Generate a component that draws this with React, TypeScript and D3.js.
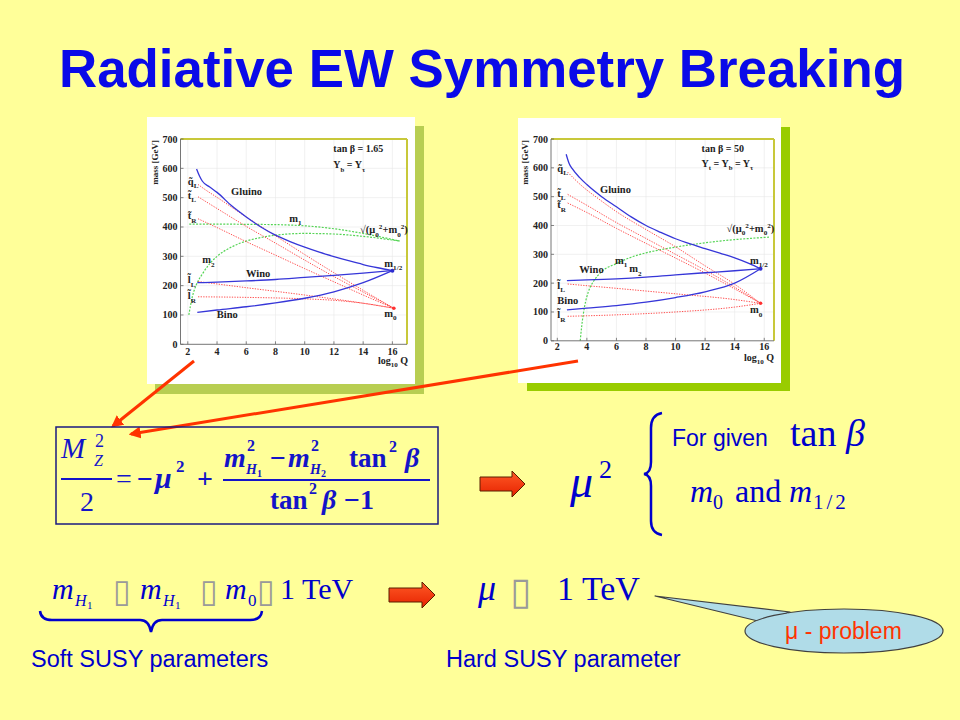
import React from 'react';
import * as d3 from 'd3';

type Pt = [number, number];

// ---------- axes ----------
const xTicks = [2, 4, 6, 8, 10, 12, 14, 16];
const yTicks = [0, 100, 200, 300, 400, 500, 600, 700];

// ---------- chart 1 : tan beta = 1.65 ----------
const c1Gluino: Pt[] = [[2.6, 598], [2.8, 574], [3.0, 556], [3.5, 536], [4, 518], [5, 472], [6, 434], [7, 400], [8, 372], [9, 350], [10, 331], [11, 314], [12, 299], [13, 285], [14, 272], [15, 261], [16.0, 251]];
const c1Wino: Pt[] = [[2.65, 210], [4, 212], [6, 216], [8, 221], [10, 228], [12, 235], [14, 243], [16.0, 251]];
const c1Bino: Pt[] = [[2.65, 109], [4, 117], [6, 128], [8, 141], [10, 157], [12, 179], [14, 210], [16.0, 251]];
const c1SqL: Pt[] = [[2.7, 545], [3.2, 527], [4, 501], [6, 434], [8, 370], [10, 306], [12, 244], [14, 184], [16.1, 123]];
const c1StL: Pt[] = [[2.7, 503], [4, 463], [6, 402], [8, 345], [10, 287], [12, 231], [14, 178], [16.1, 123]];
const c1StR: Pt[] = [[2.7, 428], [4, 398], [6, 350], [8, 304], [10, 258], [12, 213], [14, 168], [16.1, 123]];
const c1SlL: Pt[] = [[2.7, 214], [6, 193], [10, 168], [14, 140], [16.1, 123]];
const c1SlR: Pt[] = [[2.7, 162], [6, 160], [10, 155], [12, 150], [14, 140], [16.1, 123]];
const c1M1: Pt[] = [[2.1, 410], [4, 410], [6, 409], [8, 408], [10, 404], [12, 394], [14, 378], [16.5, 352]];
const c1M2: Pt[] = [[2.07, 100], [2.3, 160], [2.6, 205], [3, 240], [3.5, 275], [4, 300], [5, 332], [6, 352], [7, 364], [8, 372], [10, 378], [12, 376], [14, 368], [16.5, 352]];

// ---------- chart 2 : tan beta = 50 ----------
const c2Gluino: Pt[] = [[2.6, 647], [2.8, 615], [3.0, 598], [3.5, 567], [4, 542], [5, 500], [6, 465], [7, 430], [8, 400], [9, 376], [10, 354], [11, 336], [12, 320], [13, 304], [14, 288], [15, 268], [15.75, 250]];
const c2Wino: Pt[] = [[2.65, 209], [4, 211], [6, 215], [8, 221], [10, 229], [12, 236], [14, 243], [15.75, 250]];
const c2Bino: Pt[] = [[2.65, 107], [4, 113], [6, 122], [8, 134], [10, 150], [12, 170], [14, 200], [15.75, 250]];
const c2SqL: Pt[] = [[2.7, 585], [3.6, 540], [4.75, 494], [6, 448], [8, 386], [10, 326], [12, 260], [14, 196], [15.75, 130]];
const c2StL: Pt[] = [[2.7, 508], [4, 470], [6, 410], [8, 355], [10, 300], [12, 245], [14, 186], [15.75, 130]];
const c2StR: Pt[] = [[2.7, 478], [4, 445], [6, 390], [8, 338], [10, 287], [12, 235], [14, 180], [15.75, 130]];
const c2SlL: Pt[] = [[2.7, 197], [6, 182], [10, 163], [14, 143], [15.75, 130]];
const c2SlR: Pt[] = [[2.7, 85], [6, 90], [10, 100], [14, 117], [15.75, 130]];
const c2Green: Pt[] = [[3.55, 0], [3.65, 50], [3.85, 120], [4.1, 170], [4.5, 210], [5, 240], [6, 268], [7, 290], [8, 305], [9, 316], [10, 325], [11, 333], [12, 340], [13, 346], [14, 351], [15, 355], [16.4, 360]];

// ---------- label anchors (data coordinates) ----------
type Lab = { k: string; x: number; y: number };
const c1Labels: Lab[] = [
  { k: 'tanb1', x: 11.96, y: 654 }, { k: 'yb1', x: 11.96, y: 600 },
  { k: 'Gluino', x: 4.96, y: 509 }, { k: 'm1', x: 8.95, y: 418 },
  { k: 'sqrt', x: 13.79, y: 378 }, { k: 'm2', x: 2.99, y: 276 },
  { k: 'Wino', x: 5.98, y: 230 }, { k: 'm12', x: 15.45, y: 265 },
  { k: 'Bino', x: 3.98, y: 89 }, { k: 'm0', x: 15.45, y: 94 },
  { k: 'qL', x: 2.0, y: 543 }, { k: 'tL', x: 2.0, y: 495 }, { k: 'tR', x: 2.0, y: 426 },
  { k: 'lL', x: 2.0, y: 208 }, { k: 'lR', x: 2.0, y: 153 },
];
const c2Labels: Lab[] = [
  { k: 'tanb2', x: 11.76, y: 656 }, { k: 'yt2', x: 11.76, y: 604 },
  { k: 'Gluino', x: 4.89, y: 512 }, { k: 'sqrt', x: 13.45, y: 378 },
  { k: 'm1', x: 5.9, y: 266 }, { k: 'm2', x: 6.87, y: 238 },
  { k: 'Wino', x: 3.49, y: 234 }, { k: 'm12', x: 15.03, y: 266 },
  { k: 'Bino', x: 2.0, y: 127 }, { k: 'm0', x: 15.03, y: 95 },
  { k: 'qL', x: 2.0, y: 587 }, { k: 'tL', x: 2.0, y: 499 }, { k: 'tR', x: 2.0, y: 459 },
  { k: 'lL', x: 2.0, y: 180 }, { k: 'lR', x: 2.0, y: 78 },
];

type Seg = [string, 'n' | 'b' | 'p'];
const SEGS: Record<string, Seg[]> = {
  tanb1: [['tan β = 1.65', 'n']],
  yb1: [['Y', 'n'], ['b', 'b'], [' = Y', 'n'], ['τ', 'b']],
  tanb2: [['tan β = 50', 'n']],
  yt2: [['Y', 'n'], ['t', 'b'], [' = Y', 'n'], ['b', 'b'], [' = Y', 'n'], ['τ', 'b']],
  Gluino: [['Gluino', 'n']],
  Wino: [['Wino', 'n']],
  Bino: [['Bino', 'n']],
  m1: [['m', 'n'], ['1', 'b']],
  m2: [['m', 'n'], ['2', 'b']],
  m12: [['m', 'n'], ['1/2', 'b']],
  m0: [['m', 'n'], ['0', 'b']],
  sqrt: [['√(μ', 'n'], ['0', 'b'], ['2', 'p'], ['+m', 'n'], ['0', 'b'], ['2', 'p'], [')', 'n']],
  qL: [['q\u0303', 'n'], ['L', 'b']],
  tL: [['t\u0303', 'n'], ['L', 'b']],
  tR: [['t\u0303', 'n'], ['R', 'b']],
  lL: [['l\u0303', 'n'], ['L', 'b']],
  lR: [['l\u0303', 'n'], ['R', 'b']],
};

const SERIF = '"Liberation Serif", "Times New Roman", serif';
const SANS = '"Liberation Sans", Arial, sans-serif';
const BLUE = '#0000CC';

function Rich({ x, y, segs, size, anchor }: { x: number; y: number; segs: Seg[]; size: number; anchor?: string }) {
  let cur = 0;
  const kids = segs.map(([t, m], i) => {
    const target = m === 'b' ? size * 0.32 : m === 'p' ? -size * 0.4 : 0;
    const dy = target - cur;
    cur = target;
    return (
      <tspan key={i} dy={dy} fontSize={m === 'n' ? size : size * 0.68}>
        {t}
      </tspan>
    );
  });
  return (
    <text x={x} y={y} fontSize={size} textAnchor={anchor as any}>
      {kids}
    </text>
  );
}

type SeriesDef = { data: Pt[]; kind: 'blue' | 'red' | 'green' };
type PanelDef = {
  white: [number, number, number, number];
  shadow: [number, number, number, number];
  shadowColor: string;
  xDomain: [number, number];
  xRange: [number, number];
  yRange: [number, number];
  series: SeriesDef[];
  labels: Lab[];
  massX: number;
  logX: number;
  logY: number;
  tickLabelY: number;
  blueEnd: Pt;
  redEnd: Pt;
};

const STYLE: Record<string, any> = {
  blue: { stroke: '#3636D8', strokeWidth: 1.3 },
  red: { stroke: '#FF3A3A', strokeWidth: 0.9, strokeDasharray: '1.3 1.3' },
  green: { stroke: '#55D455', strokeWidth: 1.2, strokeDasharray: '2 1.4' },
};

function Panel({ p }: { p: PanelDef }) {
  const x = d3.scaleLinear().domain(p.xDomain).range(p.xRange);
  const y = d3.scaleLinear().domain([0, 700]).range(p.yRange);
  const line = d3
    .line<Pt>()
    .x((d) => x(d[0]))
    .y((d) => y(d[1]))
    .curve(d3.curveMonotoneX);
  const [x0, x1] = p.xRange;
  const [yb, yt] = p.yRange;
  return (
    <g>
      <rect x={p.shadow[0]} y={p.shadow[1]} width={p.shadow[2] - p.shadow[0]} height={p.shadow[3] - p.shadow[1]} fill={p.shadowColor} />
      <rect x={p.white[0]} y={p.white[1]} width={p.white[2] - p.white[0]} height={p.white[3] - p.white[1]} fill="#FFFFFF" />
      <g stroke="#E8E8E8" strokeWidth={0.6}>
        {yTicks.slice(1, -1).map((t) => (
          <line key={'gy' + t} x1={x0} x2={x1} y1={y(t)} y2={y(t)} />
        ))}
        {xTicks.map((t) => (
          <line key={'gx' + t} x1={x(t)} x2={x(t)} y1={yt} y2={yb} />
        ))}
      </g>
      <g fill="none">
        {p.series.map((s, i) => (
          <path key={i} d={line(s.data) || ''} {...STYLE[s.kind]} />
        ))}
      </g>
      <circle cx={x(p.blueEnd[0])} cy={y(p.blueEnd[1])} r={2} fill="#2D2DD0" />
      <circle cx={x(p.redEnd[0])} cy={y(p.redEnd[1])} r={1.8} fill="#FF3030" />
      <line x1={x0} x2={x1} y1={yt} y2={yt} stroke="#C8C83A" strokeWidth={2} />
      <line x1={x1} x2={x1} y1={yt} y2={yb} stroke="#C8C83A" strokeWidth={2} />
      <line x1={x0} x2={x0} y1={yt} y2={yb} stroke="#666" strokeWidth={0.9} />
      <line x1={x0} x2={x1} y1={yb} y2={yb} stroke="#666" strokeWidth={0.9} />
      <g stroke="#666" strokeWidth={0.8}>
        {yTicks.map((t) => (
          <line key={'ty' + t} x1={x0} x2={x0 + 3} y1={y(t)} y2={y(t)} />
        ))}
        {xTicks.map((t) => (
          <line key={'tx' + t} x1={x(t)} x2={x(t)} y1={yb} y2={yb - 3} />
        ))}
      </g>
      <g fontFamily={SERIF} fontWeight="bold" fontSize={10} fill="#222">
        {yTicks.map((t) => (
          <text key={'ly' + t} x={x0 - 3} y={y(t) + 3.5} textAnchor="end">
            {t}
          </text>
        ))}
        {xTicks.map((t) => (
          <text key={'lx' + t} x={x(t)} y={p.tickLabelY} textAnchor="middle">
            {t}
          </text>
        ))}
        <text transform={`translate(${p.massX},${yt + 1}) rotate(-90)`} textAnchor="end" fontSize={9}>
          mass [GeV]
        </text>
        <text x={p.logX} y={p.logY} fontSize={10}>
          log
          <tspan fontSize={7} dy={2.5}>10</tspan>
          <tspan dy={-2.5}> Q</tspan>
        </text>
      </g>
      <g fontFamily={SERIF} fontWeight="bold" fill="#222">
        {p.labels.map((l, i) => (
          <Rich key={i} x={x(l.x)} y={y(l.y)} segs={SEGS[l.k]} size={l.k.startsWith('tan') || l.k.startsWith('y') ? 10 : 10.5} />
        ))}
      </g>
    </g>
  );
}

const panel1: PanelDef = {
  white: [147, 117, 415, 384],
  shadow: [155, 126, 424, 394],
  shadowColor: '#B8CE52',
  xDomain: [1.5, 17.0],
  xRange: [180.5, 407],
  yRange: [344.3, 139],
  series: [
    { data: c1M1, kind: 'green' }, { data: c1M2, kind: 'green' },
    { data: c1SqL, kind: 'red' }, { data: c1StL, kind: 'red' }, { data: c1StR, kind: 'red' },
    { data: c1SlL, kind: 'red' }, { data: c1SlR, kind: 'red' },
    { data: c1Gluino, kind: 'blue' }, { data: c1Wino, kind: 'blue' }, { data: c1Bino, kind: 'blue' },
  ],
  labels: c1Labels,
  massX: 158,
  logX: 378,
  logY: 364,
  tickLabelY: 355,
  blueEnd: c1Wino[c1Wino.length - 1],
  redEnd: c1SlL[c1SlL.length - 1],
};

const panel2: PanelDef = {
  white: [518, 118, 781, 383],
  shadow: [527, 127, 790, 391],
  shadowColor: '#99CC00',
  xDomain: [1.574, 16.66],
  xRange: [551, 774],
  yRange: [340.8, 139],
  series: [
    { data: c2Green, kind: 'green' },
    { data: c2SqL, kind: 'red' }, { data: c2StL, kind: 'red' }, { data: c2StR, kind: 'red' },
    { data: c2SlL, kind: 'red' }, { data: c2SlR, kind: 'red' },
    { data: c2Gluino, kind: 'blue' }, { data: c2Wino, kind: 'blue' }, { data: c2Bino, kind: 'blue' },
  ],
  labels: c2Labels,
  massX: 528,
  logX: 744,
  logY: 361,
  tickLabelY: 350,
  blueEnd: c2Wino[c2Wino.length - 1],
  redEnd: c2SlL[c2SlL.length - 1],
};

function BlockArrow({ x, cy, len }: { x: number; cy: number; len: number }) {
  const head = 13;
  const sh = 7;
  const hh = 13;
  const xe = x + len;
  const xb = xe - head;
  const d = `M${x},${cy - sh} L${xb},${cy - sh} L${xb},${cy - hh} L${xe},${cy} L${xb},${cy + hh} L${xb},${cy + sh} L${x},${cy + sh} Z`;
  return <path d={d} fill="url(#arrowGrad)" stroke="#5A1E00" strokeWidth={1} strokeLinejoin="miter" />;
}

export default function App() {
  const FC = '#1414C8';
  return (
    <svg width={960} height={720} style={{ position: 'absolute', left: 0, top: 0, display: 'block' }}>
      <defs>
        <linearGradient id="arrowGrad" x1="0" y1="0" x2="0" y2="1">
          <stop offset="0" stopColor="#FF5A26" />
          <stop offset="1" stopColor="#E62200" />
        </linearGradient>
        <marker id="tip" viewBox="0 0 10 10" refX="8" refY="5" markerWidth="4" markerHeight="4" orient="auto">
          <path d="M0,0 L10,5 L0,10 Z" fill="#FF3300" />
        </marker>
      </defs>
      <rect width={960} height={720} fill="#FFFF99" />

      <text x={59} y={87} fontFamily={SANS} fontWeight="bold" fontSize={53} fill="#0A0AE8" textLength={846} lengthAdjust="spacingAndGlyphs">
        Radiative EW Symmetry Breaking
      </text>

      <Panel p={panel1} />
      <Panel p={panel2} />

      {/* pointers from the plots to the formula */}
      <line x1={194} y1={361} x2={113} y2={426} stroke="#FF3300" strokeWidth={3} markerEnd="url(#tip)" />
      <line x1={578} y1={361} x2={131} y2={434} stroke="#FF3300" strokeWidth={3} markerEnd="url(#tip)" />

      {/* formula box */}
      <rect x={56} y={427} width={382} height={97} fill="none" stroke="#1A1A80" strokeWidth={1.5} />
      <g fill={FC} fontFamily={SERIF}>
        <text x={61} y={458} fontSize={29} fontStyle="italic">M</text>
        <text x={95} y={447} fontSize={18}>2</text>
        <text x={94} y={466} fontSize={16} fontStyle="italic">Z</text>
        <line x1={61} x2={112} y1={479} y2={479} stroke={FC} strokeWidth={1.8} />
        <text x={80} y={511} fontSize={28}>2</text>
        <text x={116} y={488} fontSize={28}>=</text>
        <g fontWeight="bold">
          <text x={137} y={488} fontSize={28}>−</text>
          <text x={155} y={488} fontSize={30} fontStyle="italic">μ</text>
          <text x={176} y={472} fontSize={17}>2</text>
          <text x={197} y={488} fontSize={28}>+</text>

          <text x={224} y={467} fontSize={28} fontStyle="italic">m</text>
          <text x={247} y={451} fontSize={16}>2</text>
          <text x={246} y={474} fontSize={14} fontStyle="italic">H</text>
          <text x={257} y={477} fontSize={10}>1</text>
          <text x={270} y={467} fontSize={28}>−</text>
          <text x={288} y={467} fontSize={28} fontStyle="italic">m</text>
          <text x={311} y={451} fontSize={16}>2</text>
          <text x={310} y={474} fontSize={14} fontStyle="italic">H</text>
          <text x={321} y={477} fontSize={10}>2</text>
          <text x={349} y={467} fontSize={27}>tan</text>
          <text x={389} y={452} fontSize={16}>2</text>
          <text x={405} y={467} fontSize={28} fontStyle="italic">β</text>
          <line x1={223} x2={430} y1={480} y2={480} stroke={FC} strokeWidth={1.8} />
          <text x={270} y={509} fontSize={27}>tan</text>
          <text x={309} y={494} fontSize={16}>2</text>
          <text x={322} y={509} fontSize={28} fontStyle="italic">β</text>
          <text x={344} y={509} fontSize={28}>−1</text>
        </g>
      </g>

      <BlockArrow x={480} cy={484} len={45} />

      {/* mu^2 with brace */}
      <g fill={BLUE} fontFamily={SERIF}>
        <text x={570} y={497} fontSize={46} fontStyle="italic">μ</text>
        <text x={599} y={478} fontSize={26}>2</text>
      </g>
      <path d="M662,413 Q651,415 651,428 L651,462 Q651,473 644,474 Q651,475 651,486 L651,521 Q651,533 662,535" fill="none" stroke={BLUE} strokeWidth={2.5} />
      <text x={672} y={446} fontFamily={SANS} fontSize={23} fill={BLUE}>For given</text>
      <g fill={BLUE} fontFamily={SERIF}>
        <text x={790} y={446} fontSize={38}>tan</text>
        <text x={846} y={446} fontSize={38} fontStyle="italic">β</text>
        <text x={690} y={502} fontSize={32} fontStyle="italic">m</text>
        <text x={713} y={509} fontSize={20}>0</text>
        <text x={735} y={502} fontSize={32}>and</text>
        <text x={789} y={502} fontSize={32} fontStyle="italic">m</text>
        <text x={813} y={509} fontSize={21} letterSpacing={3}>1/2</text>
      </g>

      {/* bottom row */}
      <g fill={BLUE} fontFamily={SERIF}>
        <text x={52} y={599} fontSize={30} fontStyle="italic">m</text>
        <text x={75} y={606} fontSize={16} fontStyle="italic">H</text>
        <text x={87} y={609} fontSize={11}>1</text>
        <text x={140} y={599} fontSize={30} fontStyle="italic">m</text>
        <text x={163} y={606} fontSize={16} fontStyle="italic">H</text>
        <text x={175} y={609} fontSize={11}>1</text>
        <text x={225} y={599} fontSize={30} fontStyle="italic">m</text>
        <text x={248} y={606} fontSize={17}>0</text>
        <text x={280} y={599} fontSize={30}>1 TeV</text>
        <text x={478} y={600} fontSize={36} fontStyle="italic">μ</text>
        <text x={557} y={600} fontSize={34}>1 TeV</text>
      </g>
      <g fill="#9A9A9A" fontFamily='"DejaVu Sans", sans-serif'>
        <text x={113} y={602} fontSize={32}>▯</text>
        <text x={200} y={602} fontSize={32}>▯</text>
        <text x={257} y={602} fontSize={32}>▯</text>
        <text x={510} y={604} fontSize={38}>▯</text>
      </g>
      <BlockArrow x={389} cy={595} len={46} />

      {/* under-brace */}
      <path d="M40,611 Q41,620 52,620 L140,620 Q149,620 151,632 Q153,620 162,620 L250,620 Q261,620 262,611" fill="none" stroke={BLUE} strokeWidth={2.5} />
      <text x={31} y={667} fontFamily={SANS} fontSize={23.5} fill={BLUE}>Soft SUSY parameters</text>
      <text x={446} y={667} fontFamily={SANS} fontSize={23.5} fill={BLUE}>Hard SUSY parameter</text>

      {/* callout */}
      <path d="M655,596 L790,612 L762,622 Z" fill="#B0DCE8" stroke="#404040" strokeWidth={1.2} strokeLinejoin="round" />
      <ellipse cx={844} cy={631} rx={99} ry={22} fill="#B0DCE8" stroke="#404040" strokeWidth={1.2} />
      <path d="M788,613.5 L764,621.5 L794,628 Z" fill="#B0DCE8" />
      <text x={785} y={639} fontFamily={SANS} fontSize={23} fill="#FF3300">μ - problem</text>
    </svg>
  );
}
